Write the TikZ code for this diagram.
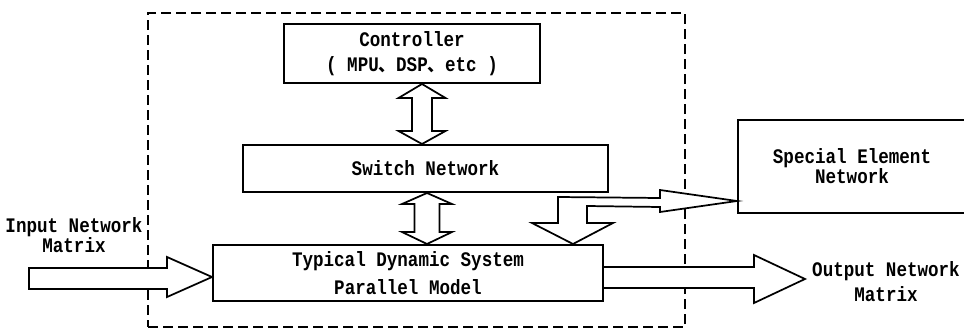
\documentclass[tikz,border=0pt]{standalone}
\usepackage{fontspec}
\setmonofont{Liberation Mono}[FakeStretch=0.85]
\newfontfamily\cjk{Noto Sans CJK SC}
\usetikzlibrary{calc}
\tikzset{
  box/.style={draw, line width=1.5pt, inner sep=0pt, align=center,
    font=\ttfamily\bfseries\fontsize{15.5}{15}\selectfont},
  lbl/.style={align=center, inner sep=0pt, font=\ttfamily\bfseries\fontsize{15.5}{15}\selectfont},
  hollow/.style={draw, fill=white, line width=1.3pt, line join=miter},
  frame/.style={draw, dash pattern=on 7.5pt off 3.75pt, line width=1.3pt, inner sep=0pt},
}
\begin{document}
\begin{tikzpicture}[x=0.75pt,y=-0.75pt]
\useasboundingbox (0,0) rectangle (964,332);
% dashed system frame
\node[frame, minimum width=402.75pt, minimum height=235.5pt] (sys) at (416.5,170) {};
% boxes
\node[box, minimum width=192pt, minimum height=44.25pt,
  font=\ttfamily\bfseries\fontsize{15.5}{18.75}\selectfont] (ctrl) at (412,53.5)
  {Controller\\( MPU{\cjk\fontsize{13}{15}\selectfont 、}DSP{\cjk\fontsize{13}{15}\selectfont 、}etc )};
\node[box, minimum width=273.75pt, minimum height=35.25pt] (sw) at (425.5,168.5) {Switch Network};
\node[box, minimum width=292.5pt, minimum height=42pt,
  font=\ttfamily\bfseries\fontsize{15.5}{21}\selectfont] (typ) at (408,273)
  {Typical Dynamic System\\Parallel Model};
\node[box, minimum width=171pt, minimum height=69.75pt] (spec) at (852,166.5)
  {Special Element\\Network};
% free labels
\node[lbl] (inlbl) at (74,235) {Input Network\\Matrix};
\node[lbl, font=\ttfamily\bfseries\fontsize{15.5}{18.75}\selectfont] (outlbl) at (886,282) {Output Network\\Matrix};
% controller <-> switch
\coordinate (ct) at ($(ctrl.south)+(10,0)$);
\coordinate (cb) at ($(sw.north)+(-3.5,0)$);
\draw[hollow] (ct) -- ($(ct)+(23.5,14)$) -- ($(ct)+(10,14)$) -- ($(cb)+(10,-13)$)
  -- ($(cb)+(23.5,-13)$) -- (cb) -- ($(cb)+(-23.5,-13)$) -- ($(cb)+(-10,-13)$)
  -- ($(ct)+(-10,14)$) -- ($(ct)+(-23.5,14)$) -- cycle;
% switch <-> typical
\coordinate (st) at ($(sw.south)+(1.5,0)$);
\coordinate (sb) at ($(typ.north)+(19,0)$);
\draw[hollow] (st) -- ($(st)+(25,11)$) -- ($(st)+(12.5,11)$) -- ($(sb)+(12.5,-12)$)
  -- ($(sb)+(25,-12)$) -- (sb) -- ($(sb)+(-25,-12)$) -- ($(sb)+(-12.5,-12)$)
  -- ($(st)+(-12.5,11)$) -- ($(st)+(-25,11)$) -- cycle;
% input arrow
\coordinate (inTip) at ($(typ.west)+(0,4)$);
\draw[hollow] (inTip) -- ($(inTip)+(-45,-20)$) -- ($(inTip)+(-45,-9)$) -- ($(inTip)+(-183,-9)$)
  -- ($(inTip)+(-183,12)$) -- ($(inTip)+(-45,12)$) -- ($(inTip)+(-45,20)$) -- cycle;
% output arrow
\coordinate (outTip) at (805,279);
\draw[hollow] ($(typ.east)+(0,-6)$) -- ($(outTip)+(-51,-12)$) -- ($(outTip)+(-51,-24)$) -- (outTip)
  -- ($(outTip)+(-51,24)$) -- ($(outTip)+(-51,9)$) -- ($(typ.east)+(0,15)$);
% typical <-> special element
\coordinate (dTip) at ($(typ.north)+(165,0)$);
\coordinate (sTip) at ($(spec.west)+(0,34.5)$);
\draw[hollow] (dTip) -- ($(dTip)+(40,-21)$) -- ($(dTip)+(14,-21)$) -- ($(dTip)+(14,-38)$)
  -- ($(sTip)+(-77,6)$) -- ($(sTip)+(-77,11)$) -- (sTip) -- ($(sTip)+(-77,-11)$)
  -- ($(sTip)+(-77,-3)$) -- ($(dTip)+(-15,-47)$) -- ($(dTip)+(-15,-21)$)
  -- ($(dTip)+(-41,-21)$) -- cycle;
\end{tikzpicture}
\end{document}
